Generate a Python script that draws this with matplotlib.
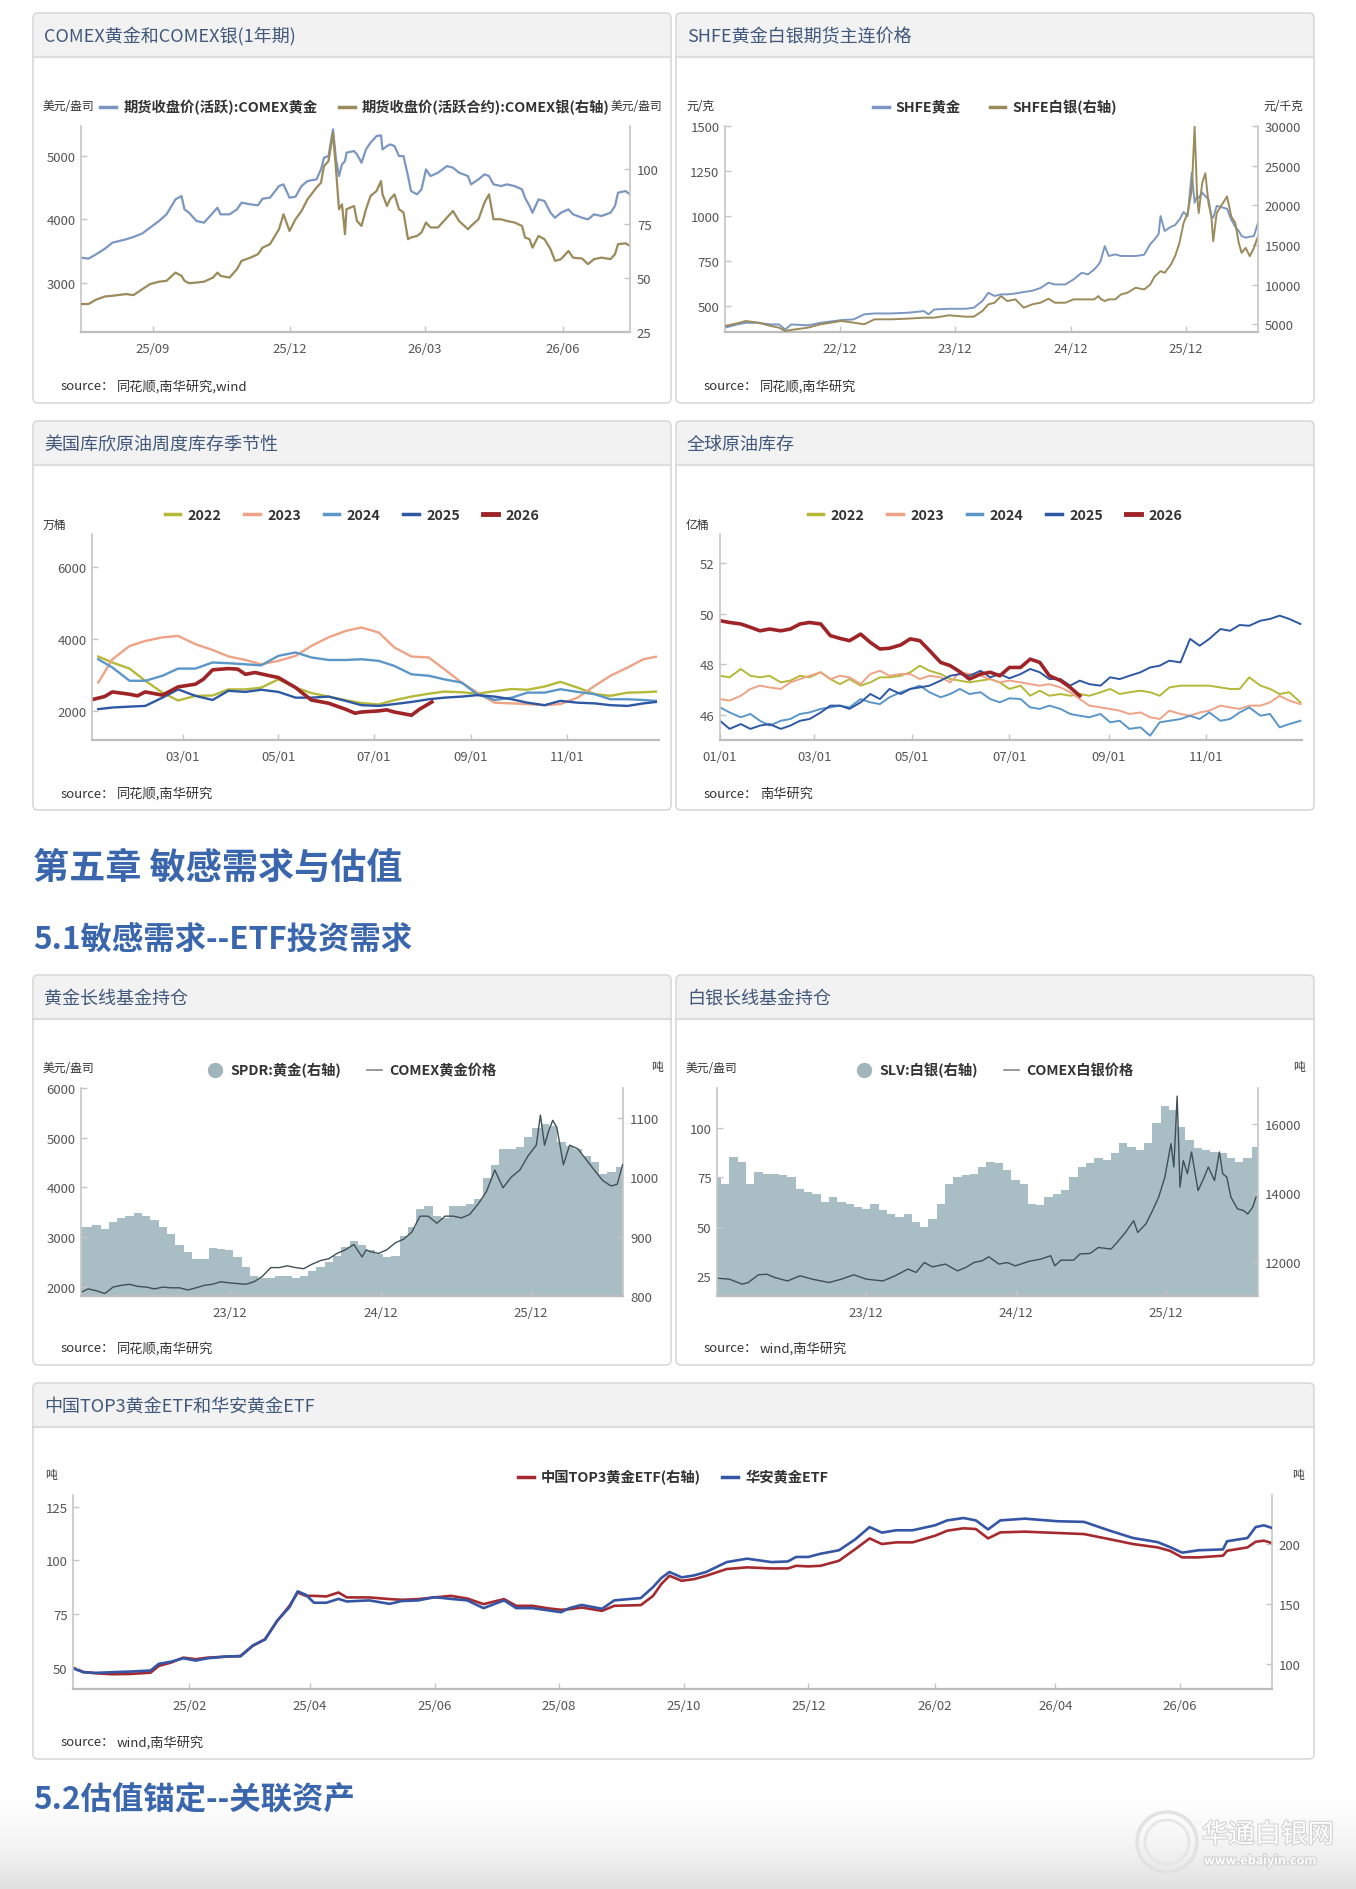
import matplotlib
matplotlib.use('Agg')
import matplotlib.pyplot as plt
import matplotlib.patheffects as pe
from matplotlib.patches import FancyBboxPatch, Rectangle, Circle
from matplotlib.lines import Line2D
import numpy as np
import pandas as pd

plt.rcParams['font.family'] = ['Noto Sans CJK SC', 'DejaVu Sans']
plt.rcParams['axes.unicode_minus'] = False

W, H = 1356, 1890

# ---------------- COMEX gold / silver, 1 year (days after 2025-07-15) ----------------
comex_start = '2025-07-15'
comex_day = [0, 5, 10, 16, 21, 30, 35, 41, 46, 52, 57, 63, 67, 69, 72, 77, 82, 88, 91, 93,
             99, 104, 107, 113, 118, 121, 126, 132, 135, 139, 143, 147, 151, 157, 160, 162, 165, 168, 170, 172,
             174, 176, 177, 182, 184, 187, 190, 193, 197, 200, 201, 204, 206, 209, 212, 215, 218, 220, 224, 227,
             230, 233, 238, 244, 248, 252, 258, 260, 265, 269, 272, 275, 280, 284, 289, 294, 296, 299, 301, 305,
             309, 313, 316, 320, 325, 328, 334, 338, 342, 347, 353, 356, 358, 363, 366]
comex_gold = [3395, 3379, 3447, 3537, 3632, 3684, 3721, 3779, 3868, 3974, 4079, 4316, 4368, 4158, 4105, 3974, 3947, 4105, 4184, 4079,
              4079, 4158, 4263, 4237, 4221, 4326, 4342, 4526, 4553, 4342, 4358, 4526, 4605, 4632, 4789, 4974, 5000, 5421, 4947, 4684,
              4868, 4921, 5053, 5079, 5026, 4895, 5105, 5211, 5316, 5326, 5105, 5158, 5184, 5158, 5000, 5000, 4684, 4447, 4395, 4474,
              4789, 4684, 4737, 4842, 4816, 4737, 4684, 4553, 4632, 4711, 4684, 4553, 4526, 4553, 4526, 4474, 4342, 4211, 4105, 4316,
              4289, 4105, 4026, 4105, 4158, 4079, 4026, 4000, 4079, 4053, 4105, 4211, 4421, 4447, 4395]
comex_silver = [37.9, 37.9, 39.9, 41.4, 41.7, 42.5, 42.0, 44.8, 47.1, 48.2, 48.6, 52.4, 50.9, 48.6, 47.5, 47.8, 48.2, 50.1, 52.4, 50.9,
                50.1, 54.0, 57.8, 59.3, 60.9, 63.9, 65.5, 72.4, 79.3, 71.6, 77.0, 80.8, 86.2, 91.6, 93.9, 101.5, 103.8, 116.9, 100.0, 81.6,
                83.9, 70.1, 81.6, 83.1, 76.2, 73.9, 81.6, 87.7, 90.0, 94.6, 88.5, 83.1, 86.2, 88.5, 81.6, 80.1, 67.8, 68.6, 69.3, 70.9,
                75.5, 73.2, 73.2, 77.8, 80.8, 76.2, 72.4, 73.9, 77.0, 84.7, 88.5, 77.0, 77.0, 76.2, 75.5, 73.9, 68.6, 67.8, 63.9, 69.3,
                67.8, 63.2, 57.8, 58.6, 62.4, 59.3, 58.9, 56.3, 58.6, 59.3, 58.6, 60.9, 65.5, 65.9, 64.7]

# ---------------- SHFE gold / silver (days after 2021-12-01) ----------------
shfe_start = '2021-12-01'
shfe_day = [0, 39, 66, 105, 145, 171, 191, 210, 263, 303, 368, 408, 441, 474, 526, 579, 631, 645, 664, 710,
            763, 789, 816, 835, 855, 875, 895, 921, 947, 974, 1000, 1026, 1046, 1079, 1105, 1131, 1151, 1171, 1184, 1191,
            1204, 1217, 1237, 1256, 1276, 1302, 1329, 1348, 1362, 1375, 1381, 1394, 1414, 1427, 1441, 1454, 1467, 1480, 1489, 1497,
            1502, 1513, 1523, 1533, 1542, 1548, 1559, 1572, 1592, 1605, 1618, 1629, 1638, 1651, 1664, 1677, 1690]
shfe_gold = [380, 398, 407, 407, 398, 398, 370, 398, 393, 407, 422, 426, 454, 459, 459, 463, 472, 454, 481, 485,
             485, 491, 528, 574, 556, 565, 565, 570, 578, 585, 600, 630, 620, 620, 648, 685, 676, 704, 730, 750,
             833, 778, 787, 778, 778, 778, 785, 843, 870, 900, 1000, 917, 940, 950, 981, 1022, 1000, 1241, 1074, 1111,
             1100, 1130, 1110, 1093, 1000, 990, 1056, 1050, 1040, 981, 940, 917, 889, 880, 885, 889, 963]
shfe_silver = [4791, 5126, 5419, 5209, 4791, 4581, 4162, 4288, 4581, 5000, 5419, 5209, 5000, 5628, 5628, 5712, 5838, 5838, 5838, 6131,
               5963, 5963, 6675, 7513, 7722, 8560, 7932, 8141, 7094, 7513, 7722, 8225, 7722, 7722, 8141, 8141, 8141, 8141, 8560, 8200,
               7932, 8141, 8141, 8769, 8979, 9607, 9397, 10000, 11000, 11491, 11700, 11491, 12538, 13585, 15261, 17773, 19030, 21961, 29919, 21124,
               19030, 22799, 24055, 20286, 18611, 15470, 19030, 19867, 21124, 18611, 17773, 15261, 14004, 14632, 13585, 14632, 16098]

# ---------------- Cushing crude weekly stocks, seasonal (万桶) ----------------
years = ['2022', '2023', '2024', '2025', '2026']
cushing_dates = ['01-06', '01-15', '01-26', '02-05', '02-16', '02-26', '03-09', '03-20', '03-30', '04-10',
                 '04-20', '05-01', '05-12', '05-22', '06-02', '06-13', '06-23', '07-04', '07-14', '07-25',
                 '08-05', '08-15', '08-26', '09-05', '09-16', '09-27', '10-07', '10-18', '10-28', '11-08',
                 '11-19', '11-29', '12-10', '12-20', '12-28']
cushing_2022 = [3516, 3349, 3180, 2840, 2510, 2290, 2420, 2430, 2600, 2600, 2650, 2880, 2650, 2500, 2400, 2300, 2220, 2180, 2300, 2400,
                2480, 2540, 2520, 2480, 2550, 2610, 2590, 2680, 2810, 2650, 2470, 2420, 2510, 2520, 2540]
cushing_2023 = [2790, 3440, 3810, 3950, 4050, 4090, 3860, 3700, 3520, 3420, 3300, 3395, 3535, 3810, 4050, 4230, 4325, 4185, 3770, 3515,
                3490, 3160, 2790, 2510, 2230, 2210, 2190, 2160, 2190, 2370, 2700, 2980, 3210, 3440, 3510]
cushing_2024 = [3440, 3210, 2840, 2840, 2980, 3180, 3180, 3350, 3330, 3300, 3270, 3535, 3630, 3490, 3420, 3420, 3440, 3395, 3255, 3020,
                2980, 2880, 2790, 2465, 2305, 2370, 2510, 2510, 2605, 2530, 2465, 2325, 2325, 2305, 2280]
cushing_2025 = [2050, 2095, 2120, 2140, 2370, 2600, 2420, 2305, 2560, 2530, 2590, 2530, 2370, 2370, 2400, 2280, 2160, 2140, 2190, 2250,
                2325, 2370, 2400, 2440, 2400, 2325, 2230, 2160, 2280, 2230, 2210, 2160, 2140, 2210, 2250]
cushing_2026_dates = ['01-03', '01-10', '01-15', '01-26', '01-31', '02-05', '02-16', '02-26', '03-09', '03-14',
                      '03-20', '03-30', '04-05', '04-10', '04-16', '04-26', '05-01', '05-12', '05-22', '06-02',
                      '06-13', '06-19', '06-23', '07-04', '07-09', '07-14', '07-25', '07-30', '08-07']
cushing_2026 = [2325, 2400, 2530, 2465, 2420, 2530, 2440, 2670, 2745, 2880, 3145, 3180, 3165, 3020, 3070, 2975, 2930, 2650, 2305, 2215,
                2045, 1935, 1970, 2000, 2030, 1970, 1880, 2045, 2250]

# ---------------- Global crude stocks (亿桶), days after 01-01 ----------------
global_day = [0, 6, 13, 19, 25, 31, 38, 44, 50, 56, 63, 69, 75, 81, 88, 94, 100, 106, 113, 119,
              125, 131, 138, 144, 150, 156, 163, 169, 175, 181, 188, 194, 200, 206, 213, 219, 225, 231, 238, 244,
              250, 256, 263, 269, 275, 281, 288, 294, 300, 306, 313, 319, 325, 331, 338, 344, 350, 356, 363]
global_2022 = [47.54, 47.48, 47.81, 47.54, 47.48, 47.54, 47.28, 47.35, 47.54, 47.48,
               47.68, 47.41, 47.21, 47.41, 47.15, 47.28, 47.48, 47.48, 47.54, 47.68,
               47.94, 47.74, 47.61, 47.41, 47.35, 47.28, 47.35, 47.41, 47.28, 47.02,
               47.15, 46.75, 46.95, 46.75, 46.82, 46.75, 46.82, 46.75, 46.89, 47.02,
               46.82, 46.89, 46.95, 46.89, 46.75, 47.08, 47.15, 47.15, 47.15, 47.15,
               47.08, 47.02, 47.02, 47.48, 47.15, 47.02, 46.82, 46.89, 46.49]
global_2023 = [46.62, 46.56, 46.75, 47.02, 47.15, 47.08, 47.02, 47.28, 47.41, 47.54,
               47.68, 47.41, 47.54, 47.48, 47.21, 47.61, 47.74, 47.54, 47.61, 47.61,
               47.41, 47.54, 47.48, 47.28, 47.68, 47.61, 47.54, 47.41, 47.28, 47.35,
               47.28, 47.21, 47.15, 47.21, 47.08, 46.89, 46.62, 46.36, 46.29, 46.23,
               46.16, 46.03, 46.09, 45.90, 45.83, 46.16, 46.03, 45.96, 46.09, 46.16,
               46.36, 46.29, 46.23, 46.36, 46.36, 46.49, 46.75, 46.56, 46.42]
global_2024 = [46.29, 46.09, 45.90, 46.03, 45.76, 45.57, 45.76, 45.83, 46.03, 46.09,
               46.23, 46.29, 46.36, 46.29, 46.62, 46.49, 46.42, 46.69, 46.89, 47.02,
               47.15, 46.89, 46.69, 46.82, 47.02, 46.82, 46.89, 46.62, 46.49, 46.65,
               46.62, 46.29, 46.23, 46.36, 46.23, 46.03, 45.96, 45.90, 46.03, 45.70,
               45.76, 45.44, 45.50, 45.17, 45.70, 45.76, 45.83, 45.96, 45.83, 46.09,
               45.76, 45.83, 46.09, 46.29, 45.96, 46.03, 45.50, 45.63, 45.76]
global_2025 = [45.76, 45.44, 45.63, 45.44, 45.57, 45.63, 45.44, 45.57, 45.76, 45.83,
               46.09, 46.36, 46.36, 46.23, 46.49, 46.82, 46.62, 47.02, 46.82, 47.02,
               47.08, 47.15, 47.35, 47.54, 47.61, 47.54, 47.74, 47.48, 47.61, 47.44,
               47.61, 47.81, 47.68, 47.41, 47.41, 47.15, 47.35, 47.21, 47.15, 47.48,
               47.41, 47.54, 47.68, 47.87, 47.94, 48.14, 48.07, 49.00, 48.73, 49.00,
               49.39, 49.32, 49.55, 49.52, 49.72, 49.79, 49.92, 49.79, 49.59]
global_2026 = [49.72, 49.65, 49.59, 49.46, 49.32, 49.39, 49.32, 49.39, 49.59, 49.65,
               49.59, 49.13, 49.02, 48.93, 49.19, 48.86, 48.60, 48.63, 48.76, 49.00,
               48.93, 48.54, 48.07, 47.94, 47.70, 47.41, 47.61, 47.68, 47.54, 47.87,
               47.87, 48.20, 48.07, 47.54, 47.35, 47.08, 46.75]

# ---------------- SPDR gold holdings (吨) and COMEX gold ----------------
spdr_tons = [916, 916, 919, 913, 925, 931, 934, 940, 934, 928, 916, 904, 886, 874, 862, 862, 880, 879, 877, 865,
             848, 833, 830, 830, 833, 833, 830, 833, 842, 848, 857, 868, 883, 892, 886, 877, 871, 865, 868, 901,
             916, 946, 952, 934, 931, 952, 952, 955, 964, 999, 1020, 1047, 1047, 1050, 1068, 1083, 1089, 1086, 1059, 1053,
             1047, 1035, 1026, 1005, 1008, 1017]
spdr_first, spdr_last = '2022-11-30', '2026-07-06'
gold_px_start = '2022-12-03'
gold_px_day = [0, 17, 37, 58, 78, 98, 118, 138, 159, 179, 199, 219, 239, 260, 280, 300, 320, 340, 361, 381,
               401, 421, 441, 462, 482, 502, 522, 542, 563, 583, 603, 623, 643, 664, 684, 694, 704, 724, 744, 765,
               785, 805, 825, 845, 866, 886, 906, 926, 946, 967, 987, 1007, 1027, 1047, 1068, 1088, 1108, 1118, 1128, 1138,
               1148, 1158, 1174, 1189, 1209, 1229, 1249, 1270, 1290, 1305, 1318]
gold_px = [1886, 1957, 1921, 1864, 1993, 2029, 2050, 2007, 1993, 1957, 1993, 1979, 1979, 1936, 1979, 2029, 2050, 2100, 2079, 2064,
           2050, 2100, 2207, 2386, 2386, 2421, 2386, 2364, 2457, 2528, 2564, 2671, 2743, 2850, 2600, 2743, 2707, 2671, 2743, 2885,
           2957, 3100, 3421, 3421, 3278, 3421, 3421, 3385, 3457, 3671, 3921, 4349, 3992, 4206, 4349, 4635, 4849, 5456, 4849, 5135,
           5349, 5206, 4456, 4849, 4778, 4564, 4349, 4135, 4028, 4064, 4456]

# ---------------- SLV silver holdings (吨) and COMEX silver ----------------
slv_tons = [14459, 14263, 15044, 14898, 14263, 14605, 14556, 14556, 14507, 14459, 14117, 14020, 13971, 13727, 13873, 13727, 13678, 13580, 13532, 13678,
            13483, 13385, 13288, 13385, 13141, 12995, 13239, 13678, 14263, 14459, 14507, 14556, 14751, 14898, 14849, 14654, 14361, 14263, 13678, 13629,
            13873, 13971, 14068, 14459, 14751, 14849, 14995, 14946, 15141, 15434, 15337, 15239, 15434, 16020, 16507, 16410, 15922, 15532, 15288, 15239,
            15190, 15141, 14995, 14898, 14995, 15337]
slv_first, slv_last = '2022-12-04', '2026-07-09'
silver_px_start = '2022-12-04'
silver_px_day = [0, 30, 61, 76, 101, 121, 141, 172, 202, 232, 273, 303, 333, 364, 404, 434, 465, 485, 505, 525,
                 556, 586, 606, 626, 646, 662, 687, 707, 727, 758, 788, 813, 823, 838, 869, 884, 909, 929, 960, 975,
                 995, 1015, 1025, 1045, 1061, 1076, 1091, 1106, 1113, 1121, 1128, 1136, 1146, 1156, 1172, 1187, 1197, 1212, 1224, 1232,
                 1242, 1252, 1268, 1283, 1293, 1305, 1313]
silver_px = [24.0, 23.5, 21.0, 21.8, 25.7, 26.0, 24.3, 22.6, 25.2, 23.5, 21.8, 23.5, 25.7, 23.5, 22.6, 25.2, 28.6, 26.9, 31.9, 29.7,
             31.1, 27.7, 29.4, 31.9, 32.8, 34.8, 31.1, 31.9, 30.2, 32.4, 33.6, 35.3, 30.2, 33.1, 33.1, 36.2, 36.5, 39.5, 38.7, 42.1,
             47.1, 53.0, 47.1, 51.4, 58.1, 64.9, 75.0, 91.9, 80.1, 115.9, 69.9, 83.4, 76.7, 87.7, 68.2, 75.0, 80.1, 73.3, 87.7, 76.7,
             75.0, 64.9, 59.0, 58.1, 56.4, 59.8, 64.9]

# ---------------- China gold ETF holdings (吨), days after 2025-02-01 ----------------
etf_start = '2025-02-01'
etf_day = [-57, -52, -46, -38, -29, -19, -15, -9, -3, 3, 9, 19, 25, 31, 37, 43, 49, 53, 57, 61,
           67, 73, 77, 88, 98, 104, 112, 120, 128, 136, 144, 154, 160, 168, 176, 182, 186, 192, 202, 208,
           221, 227, 231, 235, 241, 247, 253, 263, 273, 285, 293, 297, 303, 309, 318, 326, 333, 339, 346, 354,
           365, 371, 379, 385, 391, 397, 409, 425, 438, 450, 462, 474, 480, 486, 494, 506, 508, 518, 522, 526, 530]
etf_top3 = [97.2, 93.6, 92.5, 91.7, 91.9, 93.0, 98.6, 101.4, 105.5, 104.2, 105.5, 106.4, 106.9, 115.3, 120.8, 136.1, 148.6, 159.7, 156.9, 156.9,
            156.4, 159.7, 155.6, 155.6, 154.2, 153.6, 154.2, 155.6, 156.9, 154.7, 150.0, 154.2, 148.6, 148.6, 146.4, 145.3, 145.8, 147.2, 144.4, 148.6,
            149.2, 156.9, 166.7, 173.6, 169.4, 170.8, 173.6, 179.2, 180.6, 179.7, 179.7, 181.9, 181.4, 181.9, 186.1, 195.8, 204.7, 200.0, 201.4, 201.4,
            206.9, 211.1, 213.1, 212.5, 204.7, 209.7, 210.3, 209.2, 208.3, 204.2, 200.0, 197.2, 194.4, 188.9, 188.9, 190.3, 194.4, 197.2, 201.9, 202.8, 200.8]
etf_huaan = [49.8, 48.0, 47.7, 48.0, 48.3, 48.8, 51.9, 52.9, 54.5, 53.4, 54.5, 55.4, 55.4, 60.4, 63.2, 72.0, 78.3, 85.6, 84.0, 80.3,
             80.3, 82.1, 80.9, 81.4, 79.8, 81.1, 81.4, 82.9, 82.1, 81.4, 77.8, 81.4, 77.8, 77.8, 76.7, 75.9, 77.8, 79.3, 77.5, 81.4,
             82.5, 87.6, 91.8, 94.6, 92.1, 93.0, 94.6, 99.2, 100.8, 99.2, 99.5, 101.6, 101.6, 103.1, 104.7, 109.8, 115.5, 112.9, 114.0, 114.0,
             116.3, 118.6, 119.7, 118.6, 114.4, 118.6, 119.4, 118.2, 117.9, 114.0, 110.4, 108.5, 106.2, 103.6, 104.7, 105.1, 108.9, 110.4, 115.5, 116.3, 115.1]

# ---------------- colours ----------------
C_GOLD = '#7b97c1'
C_SILV = '#9b8a5b'
YEAR_COLORS = ['#b5b938', '#eea387', '#5b96c8', '#2e58a3', '#9e2428']
C_BAR = '#a9bdc4'
C_PXLINE = '#3f5056'
C_RED = '#a52a2f'
C_BLUE = '#3555a5'
AXC = '#c6c6c6'
TICKC = '#555555'
HEAD_BLUE = '#3a66ad'


def days(start, offs):
    return pd.Timestamp(start) + pd.to_timedelta(offs, unit='D')


def md(lst, year='2026'):
    return pd.to_datetime([year + '-' + d for d in lst])


fig = plt.figure(figsize=(W / 100, H / 100), dpi=100)
bg = fig.add_axes([0, 0, 1, 1], zorder=-10)
bg.axis('off')

# soft grey shading at page bottom
g = np.linspace(0, 1, 120) ** 1.8
shade = 1 - 0.12 * g
bg.imshow(np.dstack([shade, shade, shade]).reshape(120, 1, 3), extent=(0, W, H, 1785),
          aspect='auto', zorder=0, interpolation='bilinear')
bg.set_xlim(0, W)
bg.set_ylim(H, 0)
bg.set_autoscale_on(False)


def panel(x0, y0, x1, y1, title, src):
    hh = 44
    bs = 'round,pad=0,rounding_size=5'
    bg.add_patch(FancyBboxPatch((x0, y0), x1 - x0, y1 - y0, boxstyle=bs, fc='white', ec='none', zorder=1))
    bg.add_patch(FancyBboxPatch((x0, y0), x1 - x0, hh + 8, boxstyle=bs, fc='#f2f2f2', ec='none', zorder=2))
    bg.add_patch(Rectangle((x0 + 1, y0 + hh), x1 - x0 - 2, 10, fc='white', ec='none', zorder=3))
    bg.plot([x0, x1], [y0 + hh, y0 + hh], color='#dddddd', lw=1.6, zorder=4)
    bg.add_patch(FancyBboxPatch((x0, y0), x1 - x0, y1 - y0, boxstyle=bs, fc='none', ec='#d9d9d9', lw=1.2, zorder=5))
    bg.text(x0 + 11, y0 + hh / 2 + 1, title, fontsize=13, color='#41587a', va='center', zorder=6)
    bg.text(x0 + 28, y1 - 17, 'source：', fontsize=9.5, color='#333333', va='center', zorder=6)
    bg.text(x0 + 84, y1 - 17, src, fontsize=9.5, color='#333333', va='center', style='italic', zorder=6)


def new_ax(x0, y0, x1, y1):
    return fig.add_axes([x0 / W, 1 - y1 / H, (x1 - x0) / W, (y1 - y0) / H])


def style(ax, right=False):
    ax.set_facecolor('none')
    ax.spines['top'].set_visible(False)
    if right:
        ax.spines['left'].set_visible(False)
        ax.spines['bottom'].set_visible(False)
        ax.spines['right'].set_color(AXC)
        ax.spines['right'].set_linewidth(1.2)
        ax.tick_params(axis='y', direction='in', length=4, width=1, color=AXC,
                       labelsize=9.5, labelcolor=TICKC, pad=5)
    else:
        ax.spines['right'].set_visible(False)
        ax.spines['left'].set_color(AXC)
        ax.spines['left'].set_linewidth(1.2)
        ax.spines['bottom'].set_color('#bdbdbd')
        ax.spines['bottom'].set_linewidth(1.6)
        ax.tick_params(axis='y', direction='in', length=4, width=1, color=AXC,
                       labelsize=9.5, labelcolor=TICKC, pad=4)
        ax.tick_params(axis='x', direction='in', length=4, width=1, color=AXC,
                       labelsize=9.5, labelcolor=TICKC, pad=7)


def xdates(ax, lo, hi, ticks, labels):
    ax.set_xlim(pd.Timestamp(lo), pd.Timestamp(hi))
    ax.set_xticks(pd.to_datetime(ticks))
    ax.set_xticklabels(labels)


def legend(ax, handles, labels, cx, cy, spacing=1.7):
    ax.legend(handles, labels, loc='center', bbox_to_anchor=(cx / W, 1 - cy / H),
              bbox_transform=fig.transFigure, ncol=len(handles), frameon=False,
              prop={'weight': 'bold', 'size': 10.3}, labelcolor='#333333',
              handlelength=1.1, handletextpad=0.5, columnspacing=spacing)


def unit(x, y, s, ha='left'):
    bg.text(x, y, s, fontsize=8.5, color='#333333', ha=ha, va='center', zorder=6)


# ======== panel 1: COMEX gold & silver ========
panel(33, 14, 671, 404, 'COMEX黄金和COMEX银(1年期)', '同花顺,南华研究,wind')
ax = new_ax(81, 127, 630, 333)
ax2 = ax.twinx()
style(ax)
style(ax2, right=True)
ax.plot(days(comex_start, comex_day), comex_gold, color=C_GOLD, lw=1.6)
ax2.plot(days(comex_start, comex_day), comex_silver, color=C_SILV, lw=1.6)
ax.set_ylim(2220, 5475)
ax.set_yticks([3000, 4000, 5000])
ax2.set_ylim(25, 120)
ax2.set_yticks([25, 50, 75, 100])
xdates(ax, '2025-07-15', '2026-07-16', ['2025-09-01', '2025-12-01', '2026-03-01', '2026-06-01'],
       ['25/09', '25/12', '26/03', '26/06'])
legend(ax, [Line2D([], [], color=C_GOLD, lw=2.5), Line2D([], [], color=C_SILV, lw=2.5)],
       ['期货收盘价(活跃):COMEX黄金', '期货收盘价(活跃合约):COMEX银(右轴)'], 355, 108, spacing=1.5)
unit(43, 106, '美元/盎司')
unit(662, 106, '美元/盎司', ha='right')

# ======== panel 2: SHFE gold & silver ========
panel(676, 14, 1314, 404, 'SHFE黄金白银期货主连价格', '同花顺,南华研究')
ax = new_ax(725, 127, 1258, 333)
ax2 = ax.twinx()
style(ax)
style(ax2, right=True)
ax.plot(days(shfe_start, shfe_day), shfe_gold, color=C_GOLD, lw=1.4)
ax2.plot(days(shfe_start, shfe_day), shfe_silver, color=C_SILV, lw=1.4)
ax.set_ylim(356, 1500)
ax.set_yticks([500, 750, 1000, 1250, 1500])
ax2.set_ylim(4030, 30000)
ax2.set_yticks([5000, 10000, 15000, 20000, 25000, 30000])
xdates(ax, '2021-12-01', '2026-07-18', ['2022-12-01', '2023-12-01', '2024-12-01', '2025-12-01'],
       ['22/12', '23/12', '24/12', '25/12'])
legend(ax, [Line2D([], [], color=C_GOLD, lw=2.5), Line2D([], [], color=C_SILV, lw=2.5)],
       ['SHFE黄金', 'SHFE白银(右轴)'], 995, 108, spacing=2.0)
unit(686, 106, '元/克')
unit(1303, 106, '元/千克', ha='right')

# ======== panel 3: Cushing seasonal ========
panel(33, 422, 671, 811, '美国库欣原油周度库存季节性', '同花顺,南华研究')
ax = new_ax(92, 535, 659, 741)
style(ax)
cush = [cushing_2022, cushing_2023, cushing_2024, cushing_2025]
for yr, vals, col in zip(years[:4], cush, YEAR_COLORS[:4]):
    ax.plot(md(cushing_dates), vals, color=col, lw=1.7)
ax.plot(md(cushing_2026_dates), cushing_2026, color=YEAR_COLORS[4], lw=2.6)
ax.set_ylim(1190, 6930)
ax.set_yticks([2000, 4000, 6000])
xdates(ax, '2026-01-02', '2026-12-30', ['2026-03-01', '2026-05-01', '2026-07-01', '2026-09-01', '2026-11-01'],
       ['03/01', '05/01', '07/01', '09/01', '11/01'])
legend(ax, [Line2D([], [], color=c, lw=2.5 if i < 4 else 3.5) for i, c in enumerate(YEAR_COLORS)],
       years, 352, 516, spacing=1.6)
unit(43, 525, '万桶')

# ======== panel 4: global crude stocks ========
panel(676, 422, 1314, 811, '全球原油库存', '南华研究')
ax = new_ax(720, 535, 1302, 741)
style(ax)
glob = [global_2022, global_2023, global_2024, global_2025]
gx = days('2026-01-01', global_day)
for yr, vals, col in zip(years[:4], glob, YEAR_COLORS[:4]):
    ax.plot(gx, vals, color=col, lw=1.4)
ax.plot(gx[:len(global_2026)], global_2026, color=YEAR_COLORS[4], lw=2.6)
ax.set_ylim(45.0, 53.15)
ax.set_yticks([46, 48, 50, 52])
xdates(ax, '2026-01-01', '2026-12-31', ['2026-01-01', '2026-03-01', '2026-05-01', '2026-07-01', '2026-09-01', '2026-11-01'],
       ['01/01', '03/01', '05/01', '07/01', '09/01', '11/01'])
legend(ax, [Line2D([], [], color=c, lw=2.5 if i < 4 else 3.5) for i, c in enumerate(YEAR_COLORS)],
       years, 995, 516, spacing=1.6)
unit(686, 525, '亿桶')

# ======== headings ========
bg.text(33, 868, '第五章 敏感需求与估值', fontsize=26, fontweight='bold', color=HEAD_BLUE, va='center', zorder=6)
bg.text(33, 940, '5.1敏感需求--ETF投资需求', fontsize=22.6, fontweight='bold', color=HEAD_BLUE, va='center', zorder=6)
bg.text(33, 1800, '5.2估值锚定--关联资产', fontsize=22.6, fontweight='bold', color=HEAD_BLUE, va='center', zorder=6)

# ======== panel 5: SPDR gold ========
panel(33, 976, 671, 1366, '黄金长线基金持仓', '同花顺,南华研究')
ax = new_ax(81, 1089, 623, 1297)
ax2 = ax.twinx()
style(ax)
style(ax2, right=True)
bar_x = pd.date_range(spdr_first, spdr_last, periods=len(spdr_tons))
step = (bar_x[1] - bar_x[0]).days + 0.3
ax2.bar(bar_x, spdr_tons, width=step, color=C_BAR, edgecolor='none')
ax.plot(days(gold_px_start, gold_px_day), gold_px, color=C_PXLINE, lw=1.0)
ax.set_zorder(ax2.get_zorder() + 1)
ax.patch.set_visible(False)
ax.set_ylim(1814, 6000)
ax.set_yticks([2000, 3000, 4000, 5000, 6000])
ax2.set_ylim(800, 1150)
ax2.set_yticks([800, 900, 1000, 1100])
xdates(ax, '2022-12-03', '2026-07-14', ['2023-12-01', '2024-12-01', '2025-12-01'], ['23/12', '24/12', '25/12'])
legend(ax, [Line2D([], [], marker='o', ls='none', ms=10, color='#9fb4bb'), Line2D([], [], color='#888888', lw=1.2)],
       ['SPDR:黄金(右轴)', 'COMEX黄金价格'], 352, 1071, spacing=1.8)
unit(43, 1068, '美元/盎司')
unit(663, 1068, '吨', ha='right')

# ======== panel 6: SLV silver ========
panel(676, 976, 1314, 1366, '白银长线基金持仓', 'wind,南华研究')
ax = new_ax(717, 1089, 1258, 1297)
ax2 = ax.twinx()
style(ax)
style(ax2, right=True)
bar_x = pd.date_range(slv_first, slv_last, periods=len(slv_tons))
step = (bar_x[1] - bar_x[0]).days + 0.3
ax2.bar(bar_x, slv_tons, width=step, color=C_BAR, edgecolor='none')
ax.plot(days(silver_px_start, silver_px_day), silver_px, color=C_PXLINE, lw=1.0)
ax.set_zorder(ax2.get_zorder() + 1)
ax.patch.set_visible(False)
ax.set_ylim(15, 120)
ax.set_yticks([25, 50, 75, 100])
ax2.set_ylim(11000, 17040)
ax2.set_yticks([12000, 14000, 16000])
xdates(ax, '2022-12-04', '2026-07-14', ['2023-12-01', '2024-12-01', '2025-12-01'], ['23/12', '24/12', '25/12'])
legend(ax, [Line2D([], [], marker='o', ls='none', ms=10, color='#9fb4bb'), Line2D([], [], color='#888888', lw=1.2)],
       ['SLV:白银(右轴)', 'COMEX白银价格'], 995, 1071, spacing=1.8)
unit(686, 1068, '美元/盎司')
unit(1305, 1068, '吨', ha='right')

# ======== panel 7: China gold ETFs ========
panel(33, 1384, 1314, 1760, '中国TOP3黄金ETF和华安黄金ETF', 'wind,南华研究')
ax = new_ax(73, 1496, 1272, 1690)
ax2 = ax.twinx()
style(ax)
style(ax2, right=True)
etf_x = days(etf_start, etf_day)
ax2.plot(etf_x, etf_top3, color=C_RED, lw=1.9)
ax.plot(etf_x, etf_huaan, color=C_BLUE, lw=1.9)
ax.set_zorder(ax2.get_zorder() + 1)
ax.patch.set_visible(False)
ax.set_ylim(40.2, 130.4)
ax.set_yticks([50, 75, 100, 125])
ax2.set_ylim(79.4, 240.8)
ax2.set_yticks([100, 150, 200])
xdates(ax, '2024-12-06', '2026-07-16',
       ['2025-02-01', '2025-04-01', '2025-06-01', '2025-08-01', '2025-10-01', '2025-12-01', '2026-02-01', '2026-04-01', '2026-06-01'],
       ['25/02', '25/04', '25/06', '25/08', '25/10', '25/12', '26/02', '26/04', '26/06'])
legend(ax, [Line2D([], [], color=C_RED, lw=2.5), Line2D([], [], color=C_BLUE, lw=2.5)],
       ['中国TOP3黄金ETF(右轴)', '华安黄金ETF'], 673, 1478, spacing=1.5)
unit(45, 1476, '吨')
unit(1298, 1476, '吨', ha='center')

# ======== watermark ========
halo = [pe.withStroke(linewidth=1.6, foreground='#d2d2d2')]
bg.add_patch(Circle((1167, 1843), 30, fc='none', ec='#e2e2e2', lw=2.5, zorder=6))
bg.add_patch(Circle((1167, 1843), 22, fc='none', ec='#e6e6e6', lw=2.0, zorder=6))
bg.text(1202, 1836, '华通白银网', fontsize=19, color='white', va='center', zorder=7, path_effects=halo)
bg.text(1204, 1862, 'www.ebaiyin.com', fontsize=9, fontweight='bold', color='white', va='center', zorder=7,
        path_effects=halo)

fig.savefig('out.png', dpi=100)
